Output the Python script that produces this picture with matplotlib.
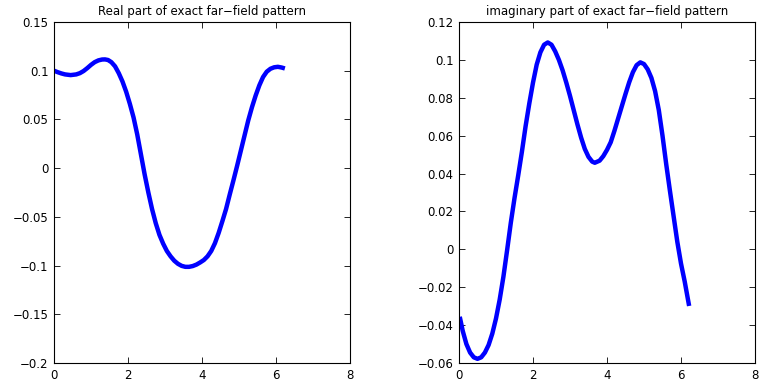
import numpy as np
import matplotlib.pyplot as plt

plt.rcParams['font.family'] = ['DejaVu Sans']

# real part
x_re = [0.00, 0.10, 0.20, 0.30, 0.45, 0.60, 0.70, 0.80, 0.90, 1.00, 1.10, 1.20,
        1.30, 1.38, 1.46, 1.55, 1.65, 1.75, 1.85, 1.95, 2.05, 2.15, 2.25, 2.35,
        2.45, 2.55, 2.65, 2.75, 2.85, 2.95, 3.05, 3.15, 3.25, 3.35, 3.45, 3.55,
        3.65, 3.75, 3.85, 3.95, 4.05, 4.15, 4.25, 4.35, 4.45, 4.55, 4.65, 4.75,
        4.85, 4.95, 5.05, 5.15, 5.25, 5.35, 5.45, 5.55, 5.65, 5.75, 5.85, 5.95,
        6.05, 6.15, 6.24]
y_re = [0.1000, 0.0985, 0.0972, 0.0962, 0.0955, 0.0962, 0.0975, 0.0997, 0.1027,
        0.1060, 0.1088, 0.1106, 0.1115, 0.1116, 0.1110, 0.1088, 0.1045, 0.0975,
        0.0890, 0.0785, 0.0660, 0.0520, 0.0345, 0.0140, -0.0065, -0.0250,
        -0.0420, -0.0565, -0.0685, -0.0775, -0.0850, -0.0905, -0.0950, -0.0982,
        -0.1003, -0.1013, -0.1013, -0.1005, -0.0990, -0.0968, -0.0943, -0.0905,
        -0.0850, -0.0770, -0.0665, -0.0545, -0.0420, -0.0270, -0.0125, 0.0025,
        0.0180, 0.0335, 0.0490, 0.0625, 0.0745, 0.0850, 0.0935, 0.0990, 0.1020,
        0.1035, 0.1040, 0.1033, 0.1023]

# imaginary part
x_im = [0.02, 0.10, 0.20, 0.30, 0.40, 0.50, 0.60, 0.70, 0.80, 0.90, 1.00, 1.10,
        1.20, 1.30, 1.40, 1.50, 1.60, 1.70, 1.80, 1.90, 2.00, 2.10, 2.20, 2.30,
        2.40, 2.50, 2.60, 2.70, 2.80, 2.90, 3.00, 3.10, 3.20, 3.30, 3.40, 3.50,
        3.60, 3.67, 3.80, 3.90, 4.00, 4.10, 4.20, 4.30, 4.40, 4.50, 4.60, 4.70,
        4.80, 4.90, 5.00, 5.10, 5.20, 5.30, 5.40, 5.50, 5.60, 5.70, 5.80, 5.90,
        6.00, 6.10, 6.22]
y_im = [-0.0356, -0.0430, -0.0500, -0.0545, -0.0570, -0.0578, -0.0570, -0.0545,
        -0.0505, -0.0445, -0.0365, -0.0265, -0.0145, -0.0005, 0.0140, 0.0270,
        0.0390, 0.0515, 0.0650, 0.0770, 0.0880, 0.0975, 0.1040, 0.1080, 0.1092,
        0.1080, 0.1045, 0.1000, 0.0945, 0.0880, 0.0810, 0.0735, 0.0660, 0.0590,
        0.0530, 0.0488, 0.0463, 0.0457, 0.0468, 0.0492, 0.0525, 0.0565, 0.0625,
        0.0690, 0.0755, 0.0820, 0.0882, 0.0935, 0.0972, 0.0987, 0.0978, 0.0950,
        0.0905, 0.0835, 0.0735, 0.0600, 0.0450, 0.0310, 0.0175, 0.0040, -0.0075,
        -0.0170, -0.0299]

fig = plt.figure(figsize=(7.62, 3.83), dpi=100)
ax1 = fig.add_axes([54/762, 20/383, 296/762, 341/383])
ax2 = fig.add_axes([459/762, 20/383, 296/762, 341/383])

for ax in (ax1, ax2):
    ax.tick_params(direction='in', top=True, right=True, length=4, width=0.6,
                   labelsize=8.5, pad=4)
    for s in ax.spines.values():
        s.set_linewidth(0.8)
    ax.set_xlim(0, 8)
    ax.set_xticks([0, 2, 4, 6, 8])

ax1.plot(x_re, y_re, color='#0000ff', lw=3.2, solid_capstyle='butt')
ax1.set_ylim(-0.2, 0.15)
ax1.set_yticks([-0.2, -0.15, -0.1, -0.05, 0, 0.05, 0.1, 0.15])
ax1.set_yticklabels(['\u22120.2', '\u22120.15', '\u22120.1', '\u22120.05', '0',
                     '0.05', '0.1', '0.15'])
ax1.set_title('Real part of exact far\u2212field pattern', fontsize=8.5, pad=5)

ax2.plot(x_im, y_im, color='#0000ff', lw=3.2, solid_capstyle='butt')
ax2.set_ylim(-0.06, 0.12)
ax2.set_yticks([-0.06, -0.04, -0.02, 0, 0.02, 0.04, 0.06, 0.08, 0.1, 0.12])
ax2.set_yticklabels(['\u22120.06', '\u22120.04', '\u22120.02', '0', '0.02', '0.04',
                     '0.06', '0.08', '0.1', '0.12'])
ax2.set_title('imaginary part of exact far\u2212field pattern', fontsize=8.5, pad=5)

fig.savefig('out.png', dpi=100)
